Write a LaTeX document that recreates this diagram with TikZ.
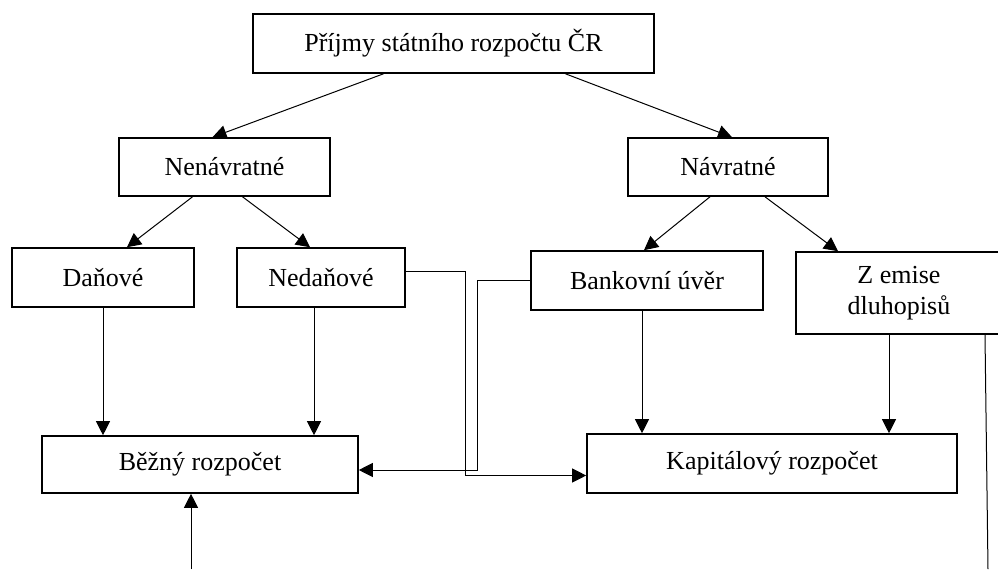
\documentclass[tikz,border=0pt]{standalone}
\usepackage{fontspec}
\setmainfont{Liberation Serif}
\usetikzlibrary{arrows.meta}

\begin{document}
\begin{tikzpicture}[x=0.5pt,y=-0.5pt]
	\tikzset{box/.style={draw, line width=0.8pt, inner sep=0pt, align=center, font=\fontsize{13}{15.5}\selectfont},
		arr/.style={-{Triangle[length=7pt,width=7pt]}, line width=0.5pt},
		ln/.style={line width=0.5pt}}
	\useasboundingbox (0,0) rectangle (998,569);

	\node[box, minimum width=200.5pt, minimum height=29.5pt] (prijmy) at (453.5,43.5) {Příjmy státního rozpočtu ČR};
	\node[box, minimum width=105.5pt, minimum height=29pt] (nenavr) at (224.5,167) {Nenávratné};
	\node[box, minimum width=100pt, minimum height=29pt] (navr) at (728,167) {Návratné};
	\node[box, minimum width=91pt, minimum height=29.5pt] (danove) at (103,277.5) {Daňové};
	\node[box, minimum width=84pt, minimum height=29.5pt] (nedan) at (321,277.5) {Nedaňové};
	\node[box, minimum width=116pt, minimum height=29.5pt] (bank) at (647,280.5) {Bankovní úvěr};
	\node[box, minimum width=103pt, minimum height=41pt] (emise) at (899,293) {Z emise\\dluhopisů};
	\node[box, minimum width=158pt, minimum height=28.5pt] (bezny) at (200,464.5) {Běžný rozpočet};
	\node[box, minimum width=185pt, minimum height=29.5pt] (kapit) at (772,463.5) {Kapitálový rozpočet};

	% upper levels
	\draw[arr] ([xshift=-35pt]prijmy.south) -- ([xshift=-6pt]nenavr.north);
	\draw[arr] ([xshift=56pt]prijmy.south) -- ([xshift=2pt]navr.north);
	\draw[arr] ([xshift=-16pt]nenavr.south) -- ([xshift=12pt]danove.north);
	\draw[arr] ([xshift=9pt]nenavr.south) -- ([xshift=-5.5pt]nedan.north);
	\draw[arr] ([xshift=-9pt]navr.south) -- ([xshift=-1.5pt]bank.north);
	\draw[arr] ([xshift=18.5pt]navr.south) -- ([xshift=-30.5pt]emise.north);

	% into the budgets
	\draw[arr] (danove.south) -- (danove.south |- bezny.north);
	\draw[arr] ([xshift=-3.5pt]nedan.south) -- ([xshift=-3.5pt]nedan.south |- bezny.north);
	\draw[arr] ([xshift=-2.5pt]bank.south) -- ([xshift=-2.5pt]bank.south |- kapit.north);
	\draw[arr] ([xshift=-5pt]emise.south) -- ([xshift=-5pt]emise.south |- kapit.north);

	\draw[arr] ([yshift=3pt]nedan.east) -- ++(60,0) |- ([yshift=-6pt]kapit.west);
	\draw[arr] (bank.west) -- ++(-53,0) |- ([yshift=-2.75pt]bezny.east);

	% loose ends
	\coordinate (vstup) at (191,569);
	\coordinate (vystup) at (988,569);
	\draw[arr] (vstup) -- (vstup |- bezny.south);
	\draw[ln] ([xshift=43pt]emise.south) -- (vystup);
\end{tikzpicture}
\end{document}
